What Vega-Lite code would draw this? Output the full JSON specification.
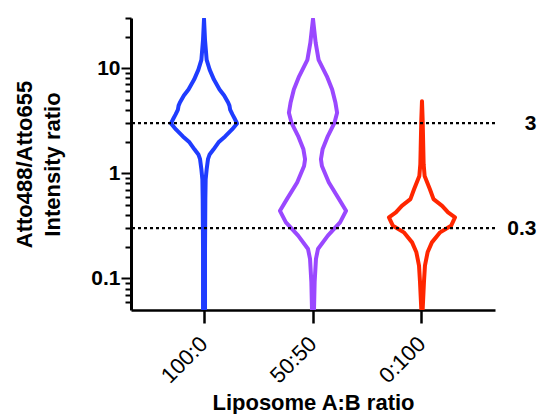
{
  "$schema": "https://vega.github.io/schema/vega-lite/v6.json",
  "width": 364,
  "height": 292,
  "autosize": "none",
  "padding": {"left": 131, "top": 18, "right": 43, "bottom": 104},
  "config": {
    "font": "Liberation Sans",
    "view": {"stroke": null},
    "axis": {"domainColor": "black", "tickColor": "black", "labelColor": "black", "titleColor": "black", "grid": false}
  },
  "layer": [
    {
      "data": {"values": [
        {"g":"100:0","ratio":0.05,"d":0.03},{"g":"100:0","ratio":0.19,"d":0.03},{"g":"100:0","ratio":0.567,"d":0.04},{"g":"100:0","ratio":0.878,"d":0.05},{"g":"100:0","ratio":1.09,"d":0.08},{"g":"100:0","ratio":1.36,"d":0.12},{"g":"100:0","ratio":1.51,"d":0.17},{"g":"100:0","ratio":1.69,"d":0.29},{"g":"100:0","ratio":1.97,"d":0.44},{"g":"100:0","ratio":2.24,"d":0.64},{"g":"100:0","ratio":2.61,"d":0.85},{"g":"100:0","ratio":2.98,"d":1.0},{"g":"100:0","ratio":3.3,"d":0.93},{"g":"100:0","ratio":3.63,"d":0.86},{"g":"100:0","ratio":4.04,"d":0.79},{"g":"100:0","ratio":4.4,"d":0.77},{"g":"100:0","ratio":4.71,"d":0.73},{"g":"100:0","ratio":5.49,"d":0.61},{"g":"100:0","ratio":6.26,"d":0.47},{"g":"100:0","ratio":7.78,"d":0.3},{"g":"100:0","ratio":9.68,"d":0.17},{"g":"100:0","ratio":12.0,"d":0.08},{"g":"100:0","ratio":18.6,"d":0.03},{"g":"100:0","ratio":29.3,"d":0},
        {"g":"100:0","ratio":18.6,"d":-0.03},{"g":"100:0","ratio":12.0,"d":-0.08},{"g":"100:0","ratio":9.68,"d":-0.17},{"g":"100:0","ratio":7.78,"d":-0.3},{"g":"100:0","ratio":6.26,"d":-0.47},{"g":"100:0","ratio":5.49,"d":-0.61},{"g":"100:0","ratio":4.71,"d":-0.73},{"g":"100:0","ratio":4.4,"d":-0.77},{"g":"100:0","ratio":4.04,"d":-0.79},{"g":"100:0","ratio":3.63,"d":-0.86},{"g":"100:0","ratio":3.3,"d":-0.93},{"g":"100:0","ratio":2.98,"d":-1.0},{"g":"100:0","ratio":2.61,"d":-0.85},{"g":"100:0","ratio":2.24,"d":-0.64},{"g":"100:0","ratio":1.97,"d":-0.44},{"g":"100:0","ratio":1.69,"d":-0.29},{"g":"100:0","ratio":1.51,"d":-0.17},{"g":"100:0","ratio":1.36,"d":-0.12},{"g":"100:0","ratio":1.09,"d":-0.08},{"g":"100:0","ratio":0.878,"d":-0.05},{"g":"100:0","ratio":0.567,"d":-0.04},{"g":"100:0","ratio":0.19,"d":-0.03},{"g":"100:0","ratio":0.05,"d":-0.03},

        {"g":"50:50","ratio":0.05,"d":0.03},{"g":"50:50","ratio":0.0927,"d":0.05},{"g":"50:50","ratio":0.153,"d":0.09},{"g":"50:50","ratio":0.19,"d":0.15},{"g":"50:50","ratio":0.255,"d":0.45},{"g":"50:50","ratio":0.341,"d":0.82},{"g":"50:50","ratio":0.439,"d":1.0},{"g":"50:50","ratio":0.567,"d":0.79},{"g":"50:50","ratio":0.816,"d":0.48},{"g":"50:50","ratio":1.17,"d":0.27},{"g":"50:50","ratio":1.36,"d":0.24},{"g":"50:50","ratio":1.69,"d":0.29},{"g":"50:50","ratio":2.26,"d":0.45},{"g":"50:50","ratio":3.02,"d":0.65},{"g":"50:50","ratio":3.76,"d":0.73},{"g":"50:50","ratio":4.68,"d":0.68},{"g":"50:50","ratio":6.26,"d":0.58},{"g":"50:50","ratio":8.36,"d":0.42},{"g":"50:50","ratio":12.0,"d":0.17},{"g":"50:50","ratio":17.5,"d":0.08},{"g":"50:50","ratio":29.3,"d":0},
        {"g":"50:50","ratio":17.5,"d":-0.08},{"g":"50:50","ratio":12.0,"d":-0.17},{"g":"50:50","ratio":8.36,"d":-0.42},{"g":"50:50","ratio":6.26,"d":-0.58},{"g":"50:50","ratio":4.68,"d":-0.68},{"g":"50:50","ratio":3.76,"d":-0.73},{"g":"50:50","ratio":3.02,"d":-0.65},{"g":"50:50","ratio":2.26,"d":-0.45},{"g":"50:50","ratio":1.69,"d":-0.29},{"g":"50:50","ratio":1.36,"d":-0.24},{"g":"50:50","ratio":1.17,"d":-0.27},{"g":"50:50","ratio":0.816,"d":-0.48},{"g":"50:50","ratio":0.567,"d":-0.79},{"g":"50:50","ratio":0.439,"d":-1.0},{"g":"50:50","ratio":0.341,"d":-0.82},{"g":"50:50","ratio":0.255,"d":-0.45},{"g":"50:50","ratio":0.19,"d":-0.15},{"g":"50:50","ratio":0.153,"d":-0.09},{"g":"50:50","ratio":0.0927,"d":-0.05},{"g":"50:50","ratio":0.05,"d":-0.03},

        {"g":"0:100","ratio":0.05,"d":0.02},{"g":"0:100","ratio":0.0927,"d":0.06},{"g":"0:100","ratio":0.132,"d":0.09},{"g":"0:100","ratio":0.177,"d":0.17},{"g":"0:100","ratio":0.22,"d":0.3},{"g":"0:100","ratio":0.274,"d":0.55},{"g":"0:100","ratio":0.316,"d":0.88},{"g":"0:100","ratio":0.38,"d":1.0},{"g":"0:100","ratio":0.424,"d":0.79},{"g":"0:100","ratio":0.49,"d":0.61},{"g":"0:100","ratio":0.567,"d":0.35},{"g":"0:100","ratio":0.705,"d":0.24},{"g":"0:100","ratio":0.943,"d":0.08},{"g":"0:100","ratio":1.22,"d":0.05},{"g":"0:100","ratio":1.69,"d":0.04},{"g":"0:100","ratio":3.25,"d":0.02},{"g":"0:100","ratio":4.85,"d":0},
        {"g":"0:100","ratio":3.25,"d":-0.02},{"g":"0:100","ratio":1.69,"d":-0.04},{"g":"0:100","ratio":1.22,"d":-0.05},{"g":"0:100","ratio":0.943,"d":-0.08},{"g":"0:100","ratio":0.705,"d":-0.24},{"g":"0:100","ratio":0.567,"d":-0.35},{"g":"0:100","ratio":0.49,"d":-0.61},{"g":"0:100","ratio":0.424,"d":-0.79},{"g":"0:100","ratio":0.38,"d":-1.0},{"g":"0:100","ratio":0.316,"d":-0.88},{"g":"0:100","ratio":0.274,"d":-0.55},{"g":"0:100","ratio":0.22,"d":-0.3},{"g":"0:100","ratio":0.177,"d":-0.17},{"g":"0:100","ratio":0.132,"d":-0.09},{"g":"0:100","ratio":0.0927,"d":-0.06},{"g":"0:100","ratio":0.05,"d":-0.02}
      ]},
      "mark": {"type": "line", "strokeWidth": 4, "strokeJoin": "round", "strokeCap": "round", "clip": true},
      "encoding": {
        "x": {
          "field": "g", "type": "nominal", "sort": ["100:0", "50:50", "0:100"],
          "scale": {"type": "band", "paddingInner": 0, "paddingOuter": 0.17},
          "axis": {
            "title": "Liposome A:B ratio", "titleFontSize": 22, "titleFontWeight": "bold", "titlePadding": 6,
            "labelAngle": -45, "labelAlign": "right", "labelBaseline": "middle", "labelFontSize": 22, "labelFontWeight": "normal", "labelPadding": 17,
            "tickSize": 13, "tickWidth": 2.5, "domainWidth": 2.5
          }
        },
        "xOffset": {"field": "d", "type": "quantitative", "scale": {"domain": [-1.65, 1.65]}},
        "y": {
          "field": "ratio", "type": "quantitative",
          "scale": {"type": "log", "domain": [0.05, 30]},
          "axis": {
            "title": ["Atto488/Atto655", "Intensity ratio"], "titleFontSize": 22, "titleFontWeight": "bold", "titleLineHeight": 28, "titlePadding": 26,
            "values": [0.06, 0.07, 0.08, 0.09, 0.1, 0.2, 0.3, 0.4, 0.5, 0.6, 0.7, 0.8, 0.9, 1, 2, 3, 4, 5, 6, 7, 8, 9, 10, 20, 30],
            "labelExpr": "datum.value == 0.1 || datum.value == 1 || datum.value == 10 ? datum.value + '' : ''",
            "labelFontSize": 21, "labelFontWeight": "bold", "labelPadding": 1,
            "tickSize": {"condition": {"test": "datum.value == 0.1 || datum.value == 1 || datum.value == 10", "value": 10}, "value": 6},
            "tickWidth": 2, "domainWidth": 3
          }
        },
        "color": {"field": "g", "type": "nominal", "scale": {"domain": ["100:0", "50:50", "0:100"], "range": ["#1f3cff", "#9a48ff", "#ff2600"]}, "legend": null},
        "order": {"value": null}
      }
    },
    {
      "data": {"values": [{"level": 3}, {"level": 0.3}]},
      "mark": {"type": "rule", "strokeDash": [3, 3], "strokeWidth": 2.2, "color": "black"},
      "encoding": {
        "y": {
          "field": "level", "type": "quantitative",
          "scale": {"type": "log", "domain": [0.05, 30]},
          "axis": {
            "orient": "right", "title": null, "values": [0.3, 3], "labelExpr": "datum.value + ''",
            "labelFontSize": 21, "labelFontWeight": "bold", "labelAlign": "right", "labelPadding": 41,
            "ticks": false, "domain": false
          }
        }
      }
    }
  ],
  "resolve": {"scale": {"y": "independent"}, "axis": {"y": "independent"}}
}
